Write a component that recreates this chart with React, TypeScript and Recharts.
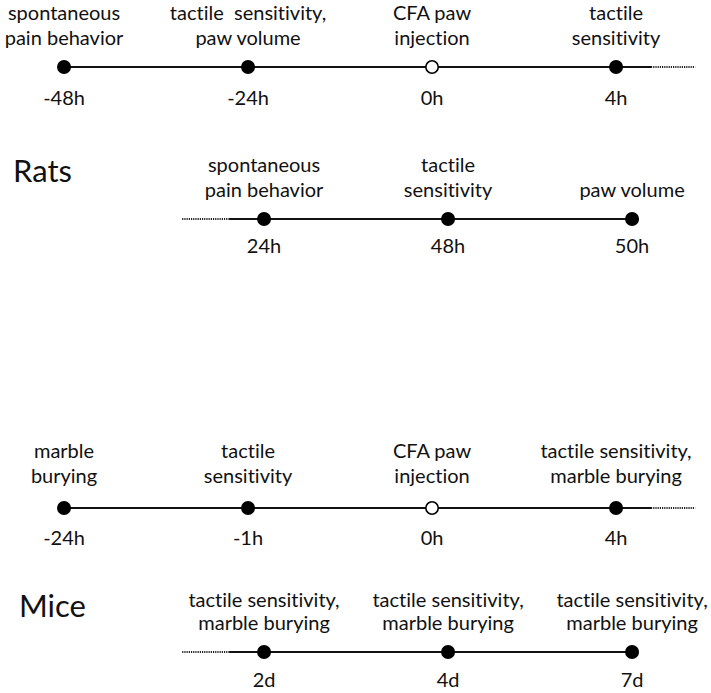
import { ComposedChart, Line, Scatter, XAxis, YAxis } from "recharts";

// evenly spaced slots on each timeline, labelled by the sampling time
const RATS_PRE_TIMES = ["-48h", "-24h", "0h", "4h"];
const RATS_PRE_EVENTS = [
  ["spontaneous", "pain behavior"],
  ["tactile  sensitivity,", "paw volume"],
  ["CFA paw", "injection"],
  ["tactile", "sensitivity"],
];
const RATS_POST_TIMES = ["24h", "48h", "50h"];
const RATS_POST_EVENTS = [["spontaneous", "pain behavior"], ["tactile", "sensitivity"], ["paw volume"]];

const MICE_PRE_TIMES = ["-24h", "-1h", "0h", "4h"];
const MICE_PRE_EVENTS = [
  ["marble", "burying"],
  ["tactile", "sensitivity"],
  ["CFA paw", "injection"],
  ["tactile sensitivity,", "marble burying"],
];
const MICE_POST_TIMES = ["2d", "4d", "7d"];
const MICE_POST_EVENTS = [
  ["tactile sensitivity,", "marble burying"],
  ["tactile sensitivity,", "marble burying"],
  ["tactile sensitivity,", "marble burying"],
];

const INJECTION = "0h";

// line extents in slot units: [solid start, solid end], [dotted start, dotted end]
const PRE_SOLID = [0, 3.19];
const PRE_DOTTED = [3.19, 3.43];
const POST_SOLID = [-0.19, 2];
const POST_DOTTED = [-0.445, -0.19];

const W = 711;
const H = 150;
const FONT = "Lato, 'Open Sans', sans-serif";
const TEXT_STYLE = { whiteSpace: "pre", fontVariantLigatures: "none", fontFeatureSettings: "'liga' 0" } as const;

type Ev = { x: number; y: number; time: string; lines: string[] };

function toPoints(times: string[], events: string[][]): Ev[] {
  return times.map((t, i) => ({ x: i, y: 0, time: t, lines: events[i] }));
}

function seg(r: number[]) {
  return [
    { x: r[0], y: 0 },
    { x: r[1], y: 0 },
  ];
}

function Timeline({
  top,
  domain,
  points,
  solid,
  dotted,
  off,
}: {
  top: number;
  domain: [number, number];
  points: Ev[];
  solid: number[];
  dotted: number[];
  off: { l1: number; l2: number; t: number };
}) {
  const renderEvent = (p: any) => {
    const { cx, cy, payload } = p;
    const open = payload.time === INJECTION;
    const ls: string[] = payload.lines;
    const base = ls.length === 1 ? [off.l2] : [off.l1, off.l2];
    return (
      <g>
        {ls.map((s, i) => (
          <text
            key={i}
            x={cx}
            y={cy + base[i]}
            textAnchor="middle"
            fontFamily={FONT}
            fontSize={20}
            fill="#111"
            style={TEXT_STYLE}
          >
            {s}
          </text>
        ))}
        <circle cx={cx} cy={cy} r={6.2} fill={open ? "#fff" : "#000"} stroke="#000" strokeWidth={1.6} />
        <text x={cx} y={cy + off.t} textAnchor="middle" fontFamily={FONT} fontSize={20} fill="#111" style={TEXT_STYLE}>
          {payload.time}
        </text>
      </g>
    );
  };

  return (
    <div style={{ position: "absolute", left: 0, top }}>
      <ComposedChart width={W} height={H} margin={{ top: 0, right: 0, bottom: 0, left: 0 }}>
        <XAxis type="number" dataKey="x" domain={domain} hide />
        <YAxis type="number" dataKey="y" domain={[-1, 1]} hide />
        <Line
          data={seg(dotted)}
          dataKey="y"
          type="linear"
          stroke="#222"
          strokeWidth={2}
          strokeDasharray="1.2 1"
          dot={false}
          activeDot={false}
          isAnimationActive={false}
        />
        <Line
          data={seg(solid)}
          dataKey="y"
          type="linear"
          stroke="#111"
          strokeWidth={2.2}
          dot={false}
          activeDot={false}
          isAnimationActive={false}
        />
        <Scatter data={points} dataKey="y" shape={renderEvent} isAnimationActive={false} />
      </ComposedChart>
    </div>
  );
}

function Species({ name, left, baseline }: { name: string; left: number; baseline: number }) {
  return (
    <svg width={120} height={50} style={{ position: "absolute", left: 0, top: baseline - 40 }}>
      <text x={left} y={40} fontFamily={FONT} fontSize={31} fill="#111">
        {name}
      </text>
    </svg>
  );
}

const PRE_DOMAIN: [number, number] = [-0.348, 3.516];
const POST_DOMAIN: [number, number] = [-1.435, 2.429];

export default function App() {
  return (
    <>
      <style>{"html,body{margin:0;padding:0;background:#fff;}"}</style>
      <div
        style={{
          position: "relative",
          width: W,
          height: 693,
          overflow: "hidden",
          background: "#fff",
        }}
      >
        <Timeline
          top={67 - H / 2}
          domain={PRE_DOMAIN}
          points={toPoints(RATS_PRE_TIMES, RATS_PRE_EVENTS)}
          solid={PRE_SOLID}
          dotted={PRE_DOTTED}
          off={{ l1: -47, l2: -22, t: 38 }}
        />
        <Species name="Rats" left={13} baseline={182} />
        <Timeline
          top={219 - H / 2}
          domain={POST_DOMAIN}
          points={toPoints(RATS_POST_TIMES, RATS_POST_EVENTS)}
          solid={POST_SOLID}
          dotted={POST_DOTTED}
          off={{ l1: -47, l2: -22, t: 34 }}
        />
        <Timeline
          top={508 - H / 2}
          domain={PRE_DOMAIN}
          points={toPoints(MICE_PRE_TIMES, MICE_PRE_EVENTS)}
          solid={PRE_SOLID}
          dotted={PRE_DOTTED}
          off={{ l1: -50, l2: -25, t: 37 }}
        />
        <Species name="Mice" left={19} baseline={617} />
        <Timeline
          top={652 - H / 2}
          domain={POST_DOMAIN}
          points={toPoints(MICE_POST_TIMES, MICE_POST_EVENTS)}
          solid={POST_SOLID}
          dotted={POST_DOTTED}
          off={{ l1: -45, l2: -22, t: 35 }}
        />
      </div>
    </>
  );
}
